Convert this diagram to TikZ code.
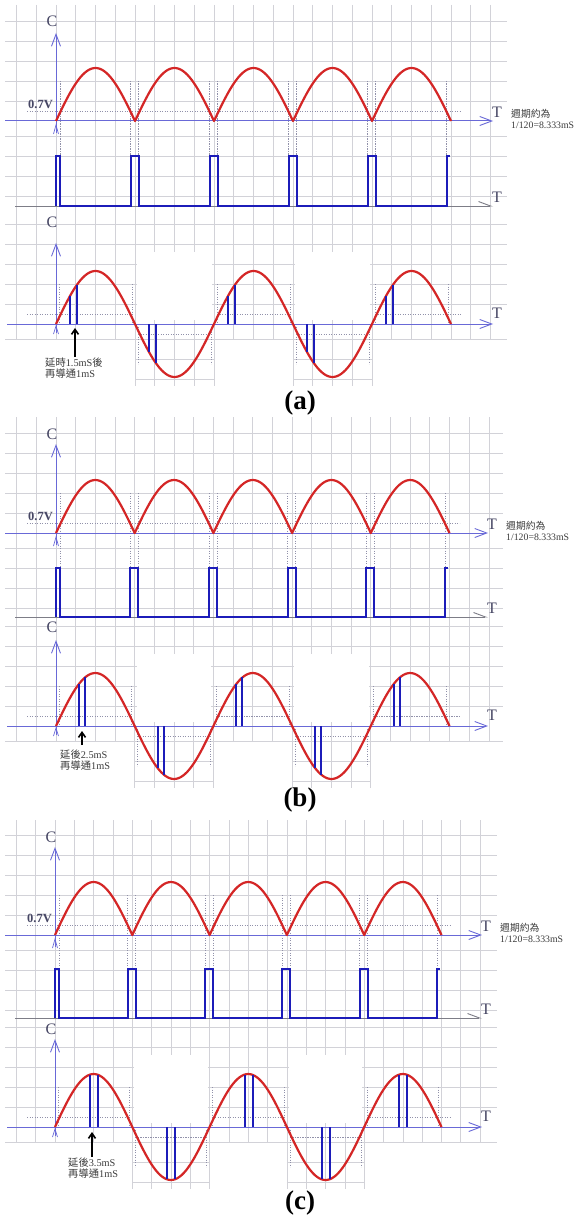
\documentclass[tikz,border=0pt]{standalone}
\usepackage{fontspec}
\setmainfont{Liberation Serif}
\newfontfamily\cjk{Noto Sans CJK TC}
\usetikzlibrary{arrows.meta}
\definecolor{gridc}{RGB}{210,210,216}
\definecolor{axisc}{RGB}{105,105,215}
\definecolor{sinec}{RGB}{212,38,38}
\definecolor{pulsec}{RGB}{28,28,185}
\definecolor{dotc}{RGB}{145,145,170}
\definecolor{greyax}{RGB}{125,125,135}
\definecolor{labc}{RGB}{70,70,100}
\definecolor{txtc}{RGB}{60,60,60}
\tikzset{
  gridline/.style={draw=gridc, line width=0.7},
  axisline/.style={draw=axisc, line width=1.0},
  axarrow/.style={axisline, -{Straight Barb[length=12,width=9,line width=0.9]}},
  pbarrow/.style={draw=greyax, line width=1.0, -{Straight Barb[length=12,width=9,harpoon,line width=0.9]}},
  dotl/.style={draw=dotc, line width=0.8, dash pattern=on 1.2pt off 1.3pt},
  sinec/.style={draw=sinec, line width=2.2, line join=round},
  pulse/.style={draw=pulsec, line width=2, line join=miter},
  bar/.style={draw=pulsec, line width=2},
  blkarrow/.style={draw=black, line width=1.6, -{Straight Barb[length=5,width=7]}},
  axlab/.style={font=\fontsize{16}{16}\selectfont, text=labc, inner sep=0},
  vlab/.style={font=\fontsize{12.5}{13}\selectfont\bfseries, text=labc, inner sep=0},
  pertext/.style={font=\fontsize{9.8}{11.5}\selectfont, text=txtc, inner sep=0, align=left},
  note/.style={font=\fontsize{10.3}{10.5}\selectfont, text=txtc, inner sep=0, align=left},
  plab/.style={font=\fontsize{27}{30}\selectfont\bfseries, text=black, inner sep=0}
}
\newcommand\drawpanel[3]{%
  \pgfmathsetmacro\Q{\HH/4}
  % grid
  \foreach \k in {-2,...,22}{\draw[gridline] ({\zz+\k*\Q},\gTop) -- ({\zz+\k*\Q},{\yL+15});}
  \foreach \d in {-100,-80,-60,-40,-20,15,35,55,75}{\draw[gridline] (5,{\yA+\d}) -- (\gR,{\yA+\d});}
  \foreach \d in {-100,-80,-60,-40,-20,15}{\draw[gridline] (5,{\yL+\d}) -- (\gR,{\yL+\d});}
  \foreach \j in {1,3}{
    \fill[white] ({\zz+\j*\HH+2},{\yL-72}) rectangle ({\zz+\j*\HH+\HH-2},{\yL-4});
    \foreach \k in {0,...,4}{\draw[gridline] ({\zz+\j*\HH+\k*\Q},\yL) -- ({\zz+\j*\HH+\k*\Q},{\yL+62});}
    \foreach \d in {15,35,55}{\draw[gridline] ({\zz+\j*\HH},{\yL+\d}) -- ({\zz+\j*\HH+\HH},{\yL+\d});}
  }
  % upper dotted guides
  \draw[dotl] (27,{\yA-10}) -- ({\zz+5*\HH+10},{\yA-10});
  \draw[dotl] ({\zz+4},{\yA-40}) -- ({\zz+4},\pTop);
  \foreach \j in {1,...,4}{
    \draw[dotl] ({\zz+\j*\HH-4.5},{\yA-40}) -- ({\zz+\j*\HH-4.5},\pTop);
    \draw[dotl] ({\zz+\j*\HH+3.5},{\yA-40}) -- ({\zz+\j*\HH+3.5},\pTop);
  }
  \draw[dotl] ({\zz+5*\HH-4.5},{\yA-40}) -- ({\zz+5*\HH-4.5},\pTop);
  % upper axes
  \coordinate (ua0#1) at (5,\yA);
  \coordinate (ua1#1) at (\tipX,\yA);
  \draw[axarrow] (ua0#1) -- (ua1#1);
  \node[axlab] (Tu#1) at ({\tipX+4},{\yA-9}) {T};
  \node[pertext, anchor=west] (per#1) at ({\tipX+18},{\yA-2}) {{\cjk 週期約為}\\1/120=8.333mS};
  \coordinate (ca0#1) at (\zz,{\yA+12});
  \coordinate (ca1#1) at (\zz,\cuTip);
  \draw[axarrow] (ca0#1) -- (ca1#1);
  \draw[axisline, line width=0.7] ({\zz-2.5},{\yA+13}) -- (\zz,{\yA+4}) -- ({\zz+2.5},{\yA+13});
  \node[axlab] (Cu#1) at ({\zz-4},\cuY) {C};
  \node[vlab, anchor=east] (V#1) at ({\zz-3},{\yA-17}) {0.7V};
  % rectified wave
  \draw[sinec] plot[domain=0:900, samples=181] ({\zz+\x/180*\HH},{\yA-\AA*abs(sin(\x))});
  % pulse train
  \coordinate (pb0#1) at (15,\pBase);
  \coordinate (pb1#1) at (\tipX,\pBase);
  \draw[pbarrow] (pb0#1) -- (pb1#1);
  \node[axlab] (Tp#1) at ({\tipX+4},{\pBase-9}) {T};
  \draw[pulse] (\zz,\pBase) -- (\zz,\pTop) -- ({\zz+4},\pTop) -- ({\zz+4},\pBase)
    \foreach \j in {1,...,4}{ -- ({\zz+\j*\HH-4.5},\pBase) -- ({\zz+\j*\HH-4.5},\pTop) -- ({\zz+\j*\HH+3.5},\pTop) -- ({\zz+\j*\HH+3.5},\pBase) }
    -- ({\zz+5*\HH-4.5},\pBase) -- ({\zz+5*\HH-4.5},\pTop) -- ({\zz+5*\HH-1.5},\pTop);
  % lower dotted guides
  \draw[dotl] (27,{\yL-10}) -- ({\zz+\HH-3},{\yL-10});
  \draw[dotl] ({\zz+2*\HH+3},{\yL-10}) -- ({\zz+3*\HH-3},{\yL-10});
  \draw[dotl] ({\zz+4*\HH+3},{\yL-10}) -- ({\zz+5*\HH+10},{\yL-10});
  \foreach \j in {0,2,4}{
    \draw[dotl] ({\zz+\j*\HH+3},{\yL-40}) -- ({\zz+\j*\HH+3},\yL);
    \draw[dotl] ({\zz+\j*\HH+\HH-3},{\yL-40}) -- ({\zz+\j*\HH+\HH-3},\yL);
  }
  \foreach \j in {1,3}{
    \draw[dotl] ({\zz+\j*\HH+3},\yL) -- ({\zz+\j*\HH+3},{\yL+40});
    \draw[dotl] ({\zz+\j*\HH+\HH-3},\yL) -- ({\zz+\j*\HH+\HH-3},{\yL+40});
    \draw[dotl] ({\zz+\j*\HH+3},{\yL+10}) -- ({\zz+\j*\HH+\HH-3},{\yL+10});
  }
  % lower axes
  \coordinate (la0#1) at (7,\yL);
  \coordinate (la1#1) at (\tipX,\yL);
  \draw[axarrow] (la0#1) -- (la1#1);
  \node[axlab] (Tl#1) at ({\tipX+4},{\yL-11}) {T};
  \coordinate (cb0#1) at (\zz,{\yL+9});
  \coordinate (cb1#1) at (\zz,\clTip);
  \draw[axarrow] (cb0#1) -- (cb1#1);
  \draw[axisline, line width=0.7] ({\zz-2.5},{\yL+10}) -- (\zz,{\yL+2}) -- ({\zz+2.5},{\yL+10});
  \node[axlab] (Cl#1) at ({\zz-4},\clY) {C};
  % sine
  \draw[sinec] plot[domain=0:900, samples=181] ({\zz+\x/180*\HH},{\yL-\AA*sin(\x)});
  % conduction bars
  \foreach \j in {0,...,4}{
    \pgfmathsetmacro\sg{1-2*mod(\j,2)}
    \foreach \dd in {\dA,\dB}{
      \draw[bar] ({\zz+\j*\HH+\dd},\yL) -- ({\zz+\j*\HH+\dd},{\yL-\sg*\AA*sin(\dd/\HH*180)});
    }
  }
  % delay note
  \coordinate (at#1) at (\arX,\arTail);
  \coordinate (ah#1) at (\arX,\arTip);
  \draw[blkarrow] (at#1) -- (ah#1);
  \node[note, anchor=north west] (note#1) at (\txX,\txY) {#2\\{\cjk 再導通}1mS};
  \node[plab] (lab#1) at (300,\labY) {(#3)};
}
\begin{document}
\begin{tikzpicture}[x=1pt,y=-1pt]
\useasboundingbox (0,0) rectangle (579,1225);
\fill[white] (0,0) rectangle (579,1225);
% panel (a)
\def\yA{121}\def\zz{56}\def\HH{79}\def\AA{53}\def\pTop{156}\def\pBase{206}
\def\cuY{21}\def\cuTip{33}\def\clY{222}\def\clTip{243}\def\yL{324}
\def\dA{14}\def\dB{21}\def\arX{75}\def\arTail{357}\def\arTip{328}
\def\txX{45}\def\txY{358}\def\tipX{493}\def\gR{507}\def\gTop{5}\def\labY{403}
\drawpanel{a}{{\cjk 延時}1.5mS{\cjk 後}}{a}
% panel (b)
\def\yA{533}\def\zz{56}\def\HH{78.7}\def\AA{53}\def\pTop{568}\def\pBase{617}
\def\cuY{434}\def\cuTip{444}\def\clY{627}\def\clTip{640}\def\yL{726}
\def\dA{23}\def\dB{29}\def\arX{82}\def\arTail{745}\def\arTip{731}
\def\txX{60}\def\txY{750}\def\tipX{488}\def\gR{503}\def\gTop{417}\def\labY{800}
\drawpanel{b}{{\cjk 延後}2.5mS}{b}
% panel (c)
\def\yA{935}\def\zz{55}\def\HH{77.3}\def\AA{53}\def\pTop{969}\def\pBase{1018}
\def\cuY{837}\def\cuTip{847}\def\clY{1029}\def\clTip{1039}\def\yL{1127}
\def\dA{35}\def\dB{43}\def\arX{92}\def\arTail{1157}\def\arTip{1132}
\def\txX{68}\def\txY{1158}\def\tipX{482}\def\gR{497}\def\gTop{820}\def\labY{1203}
\drawpanel{c}{{\cjk 延後}3.5mS}{c}
\end{tikzpicture}
\end{document}
